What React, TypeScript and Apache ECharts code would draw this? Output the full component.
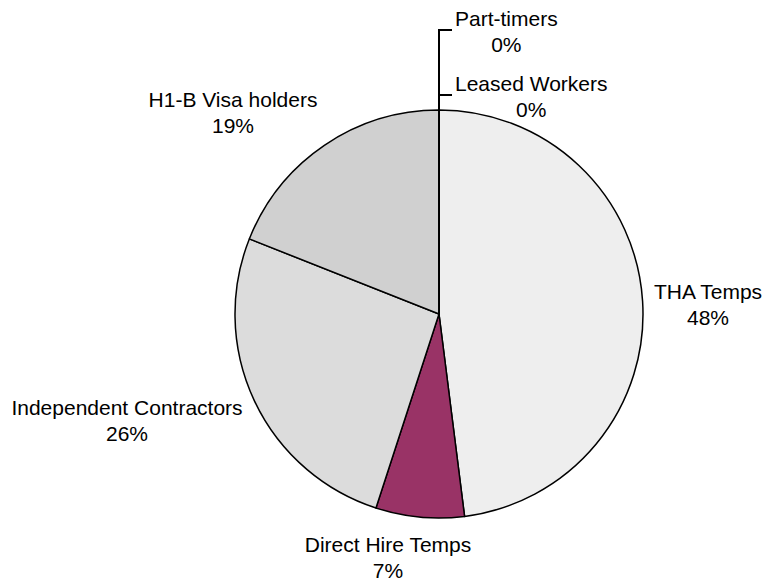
import React, { useEffect, useRef } from "react";
import * as echarts from "echarts";

const categories = [
  "THA Temps",
  "Direct Hire Temps",
  "Independent Contractors",
  "H1-B Visa holders",
  "Leased Workers",
  "Part-timers",
];
const values = [48, 7, 26, 19, 0, 0];
const colors = ["#EEEEEE", "#993366", "#DCDCDC", "#D0D0D0", "#EEEEEE", "#EEEEEE"];

// layout constants
const CX = 439;
const CY = 314;
const R = 204;
const labelPos: Record<string, { x: number; y: number; anchor: string }> = {
  "THA Temps": { x: 708, y: 304, anchor: "center" },
  "Direct Hire Temps": { x: 388, y: 557, anchor: "center" },
  "Independent Contractors": { x: 127, y: 420, anchor: "center" },
  "H1-B Visa holders": { x: 233, y: 112, anchor: "center" },
  "Leased Workers": { x: 455, y: 96, anchor: "left" },
  "Part-timers": { x: 455, y: 31, anchor: "left" },
};
const leaderNames = ["Leased Workers", "Part-timers"];

export default function App() {
  const ref = useRef<HTMLDivElement>(null);
  useEffect(() => {
    if (!ref.current) return;
    const chart = echarts.init(ref.current, undefined, { renderer: "svg" });
    const data = categories.map((name, i) => ({
      name,
      value: values[i],
      itemStyle: { color: colors[i] },
      labelLine: { show: leaderNames.includes(name) },
    }));
    chart.setOption({
      animation: false,
      backgroundColor: "#ffffff",
      series: [
        {
          type: "pie",
          center: [CX, CY],
          radius: R,
          startAngle: 90,
          clockwise: true,
          avoidLabelOverlap: false,
          silent: true,
          itemStyle: { borderColor: "#000000", borderWidth: 1.5 },
          label: {
            show: true,
            position: "outside",
            formatter: (p: any) => `${p.name}\n${Math.round(p.percent)}%`,
            color: "#000000",
            fontFamily: "Liberation Sans, Arial, sans-serif",
            fontSize: 21,
            lineHeight: 26,
            align: "center",
          },
          labelLine: {
            show: false,
            lineStyle: { color: "#000000", width: 2 },
          },
          labelLayout: (params: any) => {
            const name = categories[params.dataIndex];
            const p = labelPos[name];
            const w = params.labelRect ? params.labelRect.width : 0;
            const out: any = {
              x: p.anchor === "left" ? p.x + w / 2 : p.x,
              y: p.y,
              align: "center",
              verticalAlign: "middle",
            };
            if (leaderNames.includes(name)) {
              out.labelLinePoints = [
                [CX, CY - R],
                [CX, p.y - 1],
                [p.x - 3, p.y - 1],
              ];
            }
            return out;
          },
          data,
        },
      ],
    });
    return () => chart.dispose();
  }, []);
  return (
    <div
      ref={ref}
      style={{ position: "fixed", left: 0, top: 0, width: 767, height: 584 }}
    />
  );
}
